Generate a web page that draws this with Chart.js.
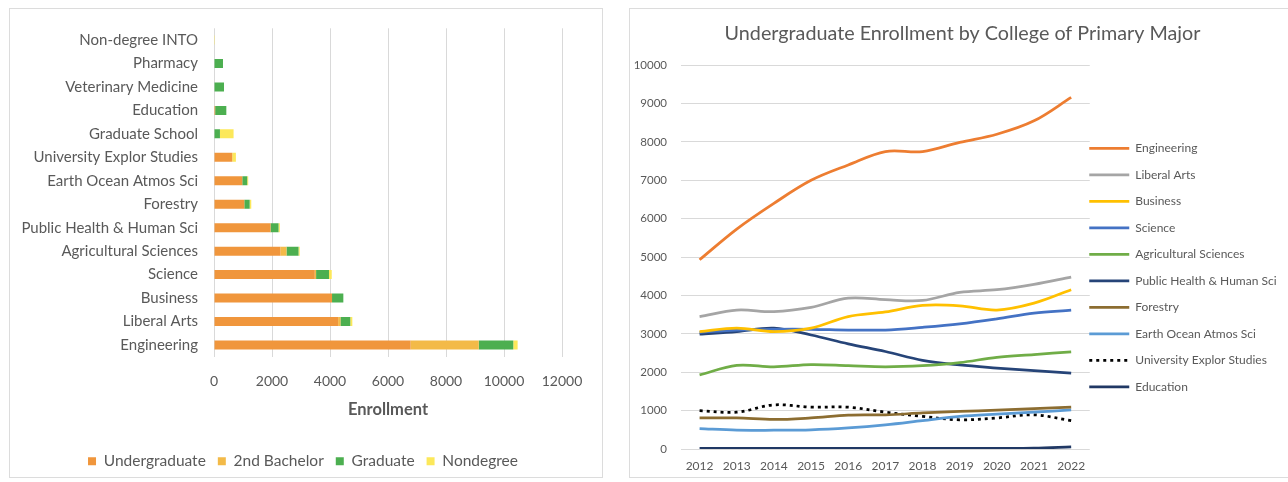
<!DOCTYPE html>
<html>
<head>
<meta charset="utf-8">
<script src="https://cdn.jsdelivr.net/npm/chart.js@4.4.1/dist/chart.umd.min.js"></script>
<style>
  body { margin: 0; background: #fff; width: 1288px; height: 482px; position: relative; overflow: hidden; }
  .panel { position: absolute; top: 8px; height: 470px; border: 1px solid #dcdcdc; box-sizing: border-box; overflow: hidden; }
  #left { left: 9px; width: 594px; }
  #right { left: 629px; width: 660px; }
  canvas { position: absolute; left: 0; top: 0; }
</style>
</head>
<body>
<div class="panel" id="left"><canvas id="enroll-bar" width="594" height="470"></canvas></div>
<div class="panel" id="right"><canvas id="trend-line" width="656" height="470"></canvas></div>
<script>
// ---- left chart: enrollment by college, stacked by student type ----
const colleges = ['Non-degree INTO', 'Pharmacy', 'Veterinary Medicine', 'Education', 'Graduate School',
    'University Explor Studies', 'Earth Ocean Atmos Sci', 'Forestry', 'Public Health & Human Sci',
    'Agricultural Sciences', 'Science', 'Business', 'Liberal Arts', 'Engineering'];
const undergrad      = [0, 0, 0, 40, 0, 630, 975, 1045, 1950, 2290, 3475, 4070, 4280, 6780];
const secondBachelor = [0, 0, 0, 0, 0, 0, 0, 0, 0, 210, 45, 0, 80, 2350];
const graduate       = [0, 310, 345, 385, 205, 0, 170, 185, 275, 415, 445, 390, 340, 1190];
const nondegree      = [30, 0, 0, 0, 470, 125, 35, 55, 45, 40, 95, 0, 70, 150];

// ---- right chart: undergraduate enrollment by year ----
const years = ['2012', '2013', '2014', '2015', '2016', '2017', '2018', '2019', '2020', '2021', '2022'];
const engineering  = [4930, 5730, 6400, 7000, 7400, 7750, 7750, 7990, 8200, 8550, 9160];
const liberalArts  = [3450, 3620, 3580, 3690, 3930, 3890, 3870, 4080, 4150, 4290, 4480];
const business     = [3060, 3150, 3060, 3150, 3450, 3570, 3740, 3730, 3620, 3800, 4150];
const science      = [3040, 3100, 3120, 3120, 3100, 3100, 3170, 3260, 3390, 3540, 3620];
const agSciences   = [1930, 2180, 2140, 2200, 2170, 2140, 2170, 2250, 2390, 2460, 2530];
const publicHealth = [2990, 3060, 3150, 2970, 2740, 2540, 2310, 2190, 2110, 2040, 1980];
const forestry     = [810, 810, 770, 810, 880, 890, 940, 980, 1010, 1050, 1090];
const earthOcean   = [530, 490, 490, 500, 550, 630, 740, 850, 910, 960, 1020];
const univExplor   = [1000, 960, 1150, 1090, 1090, 960, 850, 760, 810, 890, 740];
const education    = [15, 15, 15, 15, 15, 15, 15, 15, 15, 20, 55];

const gray = '#595959';
Chart.defaults.font.family = 'Lato, "Open Sans", sans-serif';
Chart.defaults.color = gray;

// small helper: Excel puts legend/title a bit off Chart.js's default spot,
// so move the box after layout (and optionally let it run to the canvas edge)
function nudgeBox(pick, dx, dy, toEdge) {
    return {
        id: 'nudgeBox',
        afterLayout(chart) {
            const box = pick(chart);
            box.left += dx; box.right += dx;
            box.top += dy; box.bottom += dy;
            if (toEdge) {
                box.right = chart.width;
                box.width = box.right - box.left;
            }
        }
    };
}

// plain numbers on the axes, no thousands separator
const plain = value => String(value);

const barSeries = [
    { label: 'Undergraduate', data: undergrad, color: '#F0963C' },
    { label: '2nd Bachelor', data: secondBachelor, color: '#F3BA48' },
    { label: 'Graduate', data: graduate, color: '#4CAF50' },
    { label: 'Nondegree', data: nondegree, color: '#FCE85A' },
];

new Chart(document.querySelector('#enroll-bar').getContext('2d'), {
    type: 'bar',
    data: {
        labels: colleges,
        datasets: barSeries.map(s => ({
            label: s.label,
            data: s.data,
            backgroundColor: s.color,
            borderWidth: 0,
            categoryPercentage: 0.8,
            barPercentage: 0.48,
        }))
    },
    options: {
        indexAxis: 'y',
        responsive: false,
        animation: false,
        layout: { padding: { top: 19.3, right: 42, bottom: 0, left: 0 } },
        scales: {
            x: {
                stacked: true,
                min: 0,
                max: 12000,
                ticks: { stepSize: 2000, padding: 16.8, font: { size: 14 }, callback: plain },
                grid: { color: '#d9d9d9', drawTicks: false },
                border: { display: false },
                title: { display: true, text: 'Enrollment', font: { size: 16.5, weight: 'bold' }, padding: { top: 0, bottom: 22 } },
                afterFit: scale => { scale.height = 84.8; }
            },
            y: {
                stacked: true,
                ticks: { padding: 16, font: { size: 15 } },
                grid: { display: false, drawTicks: false },
                border: { display: false },
                // fixed label column, and no extra room above/below the bars
                afterFit: scale => { scale.width = 204; scale.paddingTop = 0; scale.paddingBottom = 0; }
            }
        },
        plugins: {
            legend: {
                position: 'bottom',
                labels: { boxWidth: 8, boxHeight: 8, padding: 12, font: { size: 15.5 } }
            },
            tooltip: { enabled: false }
        }
    },
    plugins: [nudgeBox(c => c.legend, 17, 0)]
});

const lineSeries = [
    { label: 'Engineering', data: engineering, color: '#ED7D31' },
    { label: 'Liberal Arts', data: liberalArts, color: '#A5A5A5' },
    { label: 'Business', data: business, color: '#FFC000' },
    { label: 'Science', data: science, color: '#4472C4' },
    { label: 'Agricultural Sciences', data: agSciences, color: '#70AD47' },
    { label: 'Public Health & Human Sci', data: publicHealth, color: '#264478' },
    { label: 'Forestry', data: forestry, color: '#8C6D31' },
    { label: 'Earth Ocean Atmos Sci', data: earthOcean, color: '#5B9BD5' },
    { label: 'University Explor Studies', data: univExplor, color: '#000000', dash: [3, 4] },
    { label: 'Education', data: education, color: '#203864' },
];

new Chart(document.querySelector('#trend-line').getContext('2d'), {
    type: 'line',
    data: {
        labels: years,
        datasets: lineSeries.map(s => ({
            label: s.label,
            data: s.data,
            borderColor: s.color,
            backgroundColor: s.color,
            borderWidth: 2.75,
            borderDash: s.dash || [],
            pointRadius: 0,
            tension: 0.35,
        }))
    },
    options: {
        responsive: false,
        animation: false,
        layout: { padding: { top: 13, right: 43, bottom: 0, left: 0 } },
        scales: {
            x: {
                offset: true,
                ticks: { padding: 10, font: { size: 12 } },
                grid: { display: false, drawTicks: false },
                border: { display: false },
                afterFit: scale => { scale.height = 30; }
            },
            y: {
                min: 0,
                max: 10000,
                ticks: { stepSize: 1000, padding: 14, font: { size: 11.5 }, callback: plain },
                grid: { color: '#d9d9d9', drawTicks: false },
                border: { display: false },
                afterFit: scale => { scale.width = 51; }
            }
        },
        plugins: {
            title: {
                display: true,
                text: 'Undergraduate Enrollment by College of Primary Major',
                color: gray,
                font: { size: 19.75, weight: 'normal' },
                padding: { top: 0, bottom: 19.5 }
            },
            legend: {
                position: 'right',
                labels: {
                    usePointStyle: true,
                    pointStyle: 'line',
                    pointStyleWidth: 40,
                    boxHeight: 12,
                    padding: 14.5,
                    font: { size: 12 },
                    // point-style legend items lose the dataset's dash, put it back
                    generateLabels: chart => Chart.defaults.plugins.legend.labels.generateLabels(chart)
                        .map(item => ({ ...item, lineDash: chart.data.datasets[item.datasetIndex].borderDash }))
                }
            },
            tooltip: { enabled: false }
        }
    },
    plugins: [
        nudgeBox(c => c.legend, -15, 17, true),
        nudgeBox(c => c.titleBlock, 26, 0)
    ]
});
</script>
</body>
</html>
